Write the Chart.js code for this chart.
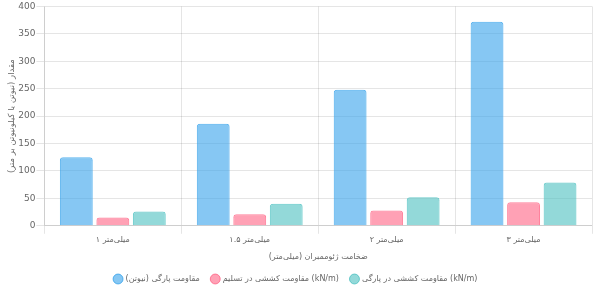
<!DOCTYPE html>
<html>
<head>
<meta charset="utf-8">
<script src="https://cdn.jsdelivr.net/npm/chart.js@4.4.0/dist/chart.umd.min.js"></script>
<style>
  html, body { margin: 0; padding: 0; background: #fff; }
  #wrap { width: 596px; height: 289px; }
</style>
</head>
<body>
<div id="wrap"><canvas id="geoChart"></canvas></div>
<script>
// Data
const thickness = ['میلی‌متر ۱', 'میلی‌متر ۱.۵', 'میلی‌متر ۲', 'میلی‌متر ۳'];
const tearStrength = [125, 186, 248, 372];      // نیوتن
const yieldTensile = [15, 21, 28, 43];          // kN/m
const breakTensile = [26, 40, 52, 79];          // kN/m

const text_color = '#666';

Chart.defaults.font.family = '"DejaVu Sans", Verdana, sans-serif';
Chart.defaults.font.size = 9;
Chart.defaults.color = text_color;

const data = {
    labels: thickness,
    datasets: [
        {
            label: 'مقاومت پارگی (نیوتن)',
            data: tearStrength,
            backgroundColor: 'rgba(54, 162, 235, 0.6)',
            borderColor: 'rgba(54, 162, 235, 0.8)',
            borderWidth: 1,
            borderRadius: 3
        },
        {
            label: 'مقاومت کششی در تسلیم (kN/m)',
            data: yieldTensile,
            backgroundColor: 'rgba(255, 99, 132, 0.6)',
            borderColor: 'rgba(255, 99, 132, 0.8)',
            borderWidth: 1,
            borderRadius: 3
        },
        {
            label: 'مقاومت کششی در پارگی (kN/m)',
            data: breakTensile,
            backgroundColor: 'rgba(75, 192, 192, 0.6)',
            borderColor: 'rgba(75, 192, 192, 0.8)',
            borderWidth: 1,
            borderRadius: 3
        }
    ]
};

const config = {
    type: 'bar',
    data,
    options: {
        responsive: true,
        maintainAspectRatio: false,
        animation: false,
        layout: { padding: { right: 4, bottom: -4 } },
        plugins: {
            legend: {
                position: 'bottom',
                labels: {
                    usePointStyle: true,
                    pointStyle: 'circle',
                    boxWidth: 7,
                    boxHeight: 7,
                    font: { size: 8 },
                    padding: 12
                }
            },
            tooltip: { enabled: false }
        },
        scales: {
            y: {
                beginAtZero: true,
                max: 400,
                ticks: { stepSize: 50, padding: 1, font: { size: 9 } },
                title: {
                    display: true,
                    text: 'مقدار (نیوتن یا کیلونیوتن بر متر)',
                    padding: { top: 7, bottom: 0 },
                    font: { size: 8.5 }
                }
            },
            x: {
                ticks: { padding: 1, font: { size: 8 } },
                title: {
                    display: true,
                    text: 'ضخامت ژئوممبران (میلی‌متر)',
                    padding: { top: 7, bottom: 1 },
                    font: { size: 8 }
                }
            }
        }
    }
};

new Chart(document.getElementById('geoChart'), config);
</script>
</body>
</html>
